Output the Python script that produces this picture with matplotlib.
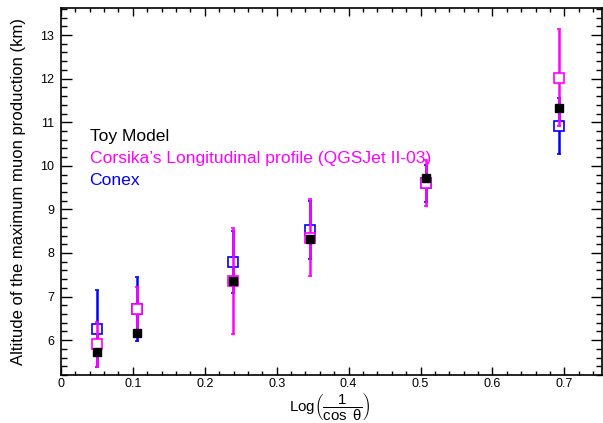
import matplotlib
matplotlib.use('Agg')
import matplotlib.pyplot as plt
from matplotlib.ticker import MultipleLocator

plt.rcParams['font.family'] = ['Liberation Sans', 'DejaVu Sans']
plt.rcParams['mathtext.fontset'] = 'custom'
plt.rcParams['mathtext.rm'] = 'Liberation Sans'
plt.rcParams['mathtext.it'] = 'Liberation Sans'

# log(1/cos(theta)) for the simulated zenith angles
log_sec = [0.0502, 0.1064, 0.2387, 0.3466, 0.5078, 0.6931]

toy = [5.73, 6.17, 7.35, 8.31, 9.72, 11.33]

corsika = [5.90, 6.72, 7.36, 8.35, 9.60, 12.02]
corsika_err = [0.51, 0.51, 1.21, 0.89, 0.53, 1.11]

conex = [6.26, 6.72, 7.79, 8.52, 9.60, 10.91]
conex_err = [0.88, 0.73, 0.72, 0.67, 0.42, 0.64]

magenta = '#ff00ff'
blue = '#0000ff'

fig = plt.figure(figsize=(6.03, 4.23), dpi=100)
ax = fig.add_axes([0.101, 0.1135, 0.897, 0.8675])

ax.errorbar(log_sec, conex, yerr=conex_err, fmt='s', color=blue, mfc='white',
            mec=blue, ms=7, mew=1.2, elinewidth=1.8, capsize=1.5, capthick=1.8, zorder=3)
ax.errorbar(log_sec, corsika, yerr=corsika_err, fmt='s', color=magenta, mfc='white',
            mec=magenta, ms=7, mew=1.2, elinewidth=1.8, capsize=1.5, capthick=1.8, zorder=4)
ax.plot(log_sec, toy, 's', color='black', ms=5.5, zorder=5)

ax.set_xlim(0, 0.752)
ax.set_ylim(5.2, 13.62)

ax.xaxis.set_minor_locator(MultipleLocator(0.02))
ax.yaxis.set_major_locator(MultipleLocator(1))
ax.yaxis.set_minor_locator(MultipleLocator(0.2))
ax.set_xticks([0, 0.1, 0.2, 0.3, 0.4, 0.5, 0.6, 0.7])
ax.set_xticklabels(['0', '0.1', '0.2', '0.3', '0.4', '0.5', '0.6', '0.7'])

ax.tick_params(which='both', direction='in', top=True, right=True, labelsize=9)
ax.tick_params(axis='y', which='major', length=8, width=1, pad=5)
ax.tick_params(axis='y', which='minor', length=4, width=1)
ax.tick_params(axis='x', which='major', length=6, width=1, pad=2)
ax.tick_params(axis='x', which='minor', length=3, width=1)
for sp in ax.spines.values():
    sp.set_linewidth(1.2)

ax.set_ylabel('Altitude of the maximum muon production (km)', fontsize=12, labelpad=10)
# x title sits under the axes, anchored to the bottom of the figure
fig.text(0.547, 0.002, r'Log$\left(\dfrac{1}{\cos\ \theta}\right)$', fontsize=10.8,
         ha='center', va='bottom')

ax.text(0.053, 0.649, 'Toy Model', color='black', fontsize=12.6,
        transform=ax.transAxes, va='center')
ax.text(0.053, 0.591, u'Corsika\u2019s Longitudinal profile (QGSJet II-03)', color=magenta,
        fontsize=12.6, transform=ax.transAxes, va='center')
ax.text(0.053, 0.531, 'Conex', color=blue, fontsize=12.6,
        transform=ax.transAxes, va='center')

fig.savefig('out.png', dpi=100)
